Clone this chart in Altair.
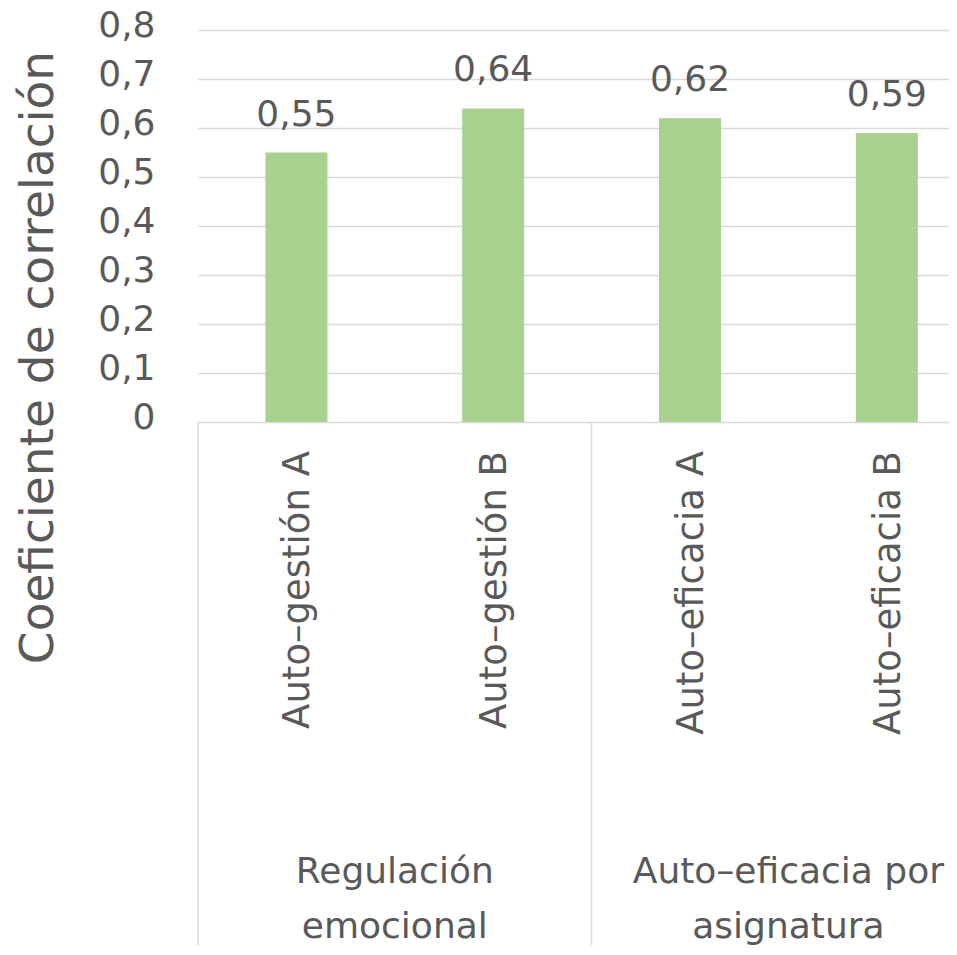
import altair as alt
import pandas as pd

# ---- data ----
categories = ["Auto–gestión A", "Auto–gestión B", "Auto–eficacia A", "Auto–eficacia B"]
values = [0.55, 0.64, 0.62, 0.59]
group_labels = [["Regulación", "emocional"], ["Auto–eficacia por", "asignatura"]]
group_members = [[0, 1], [2, 3]]
y_ticks = [0, 0.1, 0.2, 0.3, 0.4, 0.5, 0.6, 0.7, 0.8]
y_title = "Coeficiente de correlación"

FONT = "DejaVu Sans"
TXT = "#595959"
GRID = "#d9d9d9"
BAR = "#A9D18E"

W, H = 751, 915
PX_PER_CAT = 196.8
PX_PER_UNIT = 490.0
x_max = -0.5 + W / PX_PER_CAT
y_min = 0.8 - H / PX_PER_UNIT

bars_df = pd.DataFrame({"pos": list(range(len(categories))), "cat": categories, "value": values})
groups_df = pd.DataFrame({
    "gpos": [sum(m) / len(m) for m in group_members],
    "label": group_labels,
})
bounds = sorted({min(m) - 0.5 for m in group_members} | {max(m) + 0.5 for m in group_members})
sep_df = pd.DataFrame({"x": bounds, "y0": [0.0] * len(bounds), "y1": [y_min - 0.2] * len(bounds)})

xscale = alt.Scale(domain=[-0.5, x_max], nice=False, zero=False, padding=0)
yscale = alt.Scale(domain=[y_min, 0.8], nice=False, zero=False)
yaxis = alt.Axis(
    values=y_ticks,
    labelExpr="datum.value == 0 ? '0' : replace(format(datum.value, '.1f'), '.', ',')",
    labelFont=FONT, labelFontSize=36, labelColor=TXT, labelPadding=43, labelOffset=-5,
    ticks=False, domain=False,
    grid=True, gridColor=GRID, gridWidth=1.5,
    title=y_title, titleFont=FONT, titleFontSize=47, titleColor=TXT, titleFontWeight="normal",
    titleAngle=270, titleX=-146, titleY=327, titleAlign="center", titleBaseline="alphabetic",
)


def X(field):
    return alt.X(field, type="quantitative", scale=xscale, axis=None)


def Y(field=None, datum=None):
    if datum is not None:
        return alt.Y(datum=datum, type="quantitative", scale=yscale, axis=yaxis)
    return alt.Y(field, type="quantitative", scale=yscale, axis=yaxis)


bars = alt.Chart(bars_df).mark_bar(size=62, color=BAR).encode(
    x=X("pos"), y=Y("value"), y2=alt.datum(0)
)

value_labels = alt.Chart(bars_df).transform_calculate(
    lbl="replace(format(datum.value, '.2f'), '.', ',')"
).mark_text(font=FONT, fontSize=36, color=TXT, baseline="alphabetic", align="center", dy=-27).encode(
    x=X("pos"), y=Y("value"), text="lbl:N"
)

cat_labels = alt.Chart(bars_df).mark_text(
    font=FONT, fontSize=37, color=TXT, angle=270, align="right", baseline="middle",
    yOffset=29, xOffset=2
).encode(x=X("pos"), y=Y(datum=0), text="cat:N")

separators = alt.Chart(sep_df).mark_rule(color=GRID, strokeWidth=1.5).encode(
    x=X("x"), y=Y("y0"), y2="y1:Q"
)

group_text = alt.Chart(groups_df).mark_text(
    font=FONT, fontSize=36, color=TXT, align="center", baseline="alphabetic",
    lineHeight=55, yOffset=461
).encode(x=X("gpos"), y=Y(datum=0), text="label")

chart = alt.layer(separators, bars, value_labels, cat_labels, group_text).properties(
    width=W, height=H,
    autosize=alt.AutoSizeParams(type="none"),
    padding={"left": 190, "top": 22, "right": 0, "bottom": 0},
    background="white",
).configure_view(stroke=None)

chart.save("out.html", embed_options={"renderer": "svg", "actions": False})
